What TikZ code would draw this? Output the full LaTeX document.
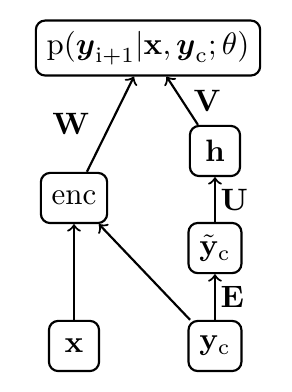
\documentclass[tikz,border=0pt]{standalone}
\usepackage{amsmath,amssymb}
\usetikzlibrary{arrows}
\tikzset{
  box/.style={draw,line width=0.7pt,rounded corners=3pt,minimum width=0.57cm,minimum height=0.57cm,inner sep=3.5pt},
  link/.style={->,line width=0.7pt}
}
\begin{document}
\begin{tikzpicture}
                \useasboundingbox (0,0) rectangle (3.318,4.455);

                \node[box] (Out) at (1.682,3.909) {$\mathrm{p}(\boldsymbol{y}_{\mathrm{i+1}}|\mathbf{x},\boldsymbol{y}_{\mathrm{c}};\theta)$};
                \node[box] (Hid) at (2.443,2.739) {$\mathbf{h}$};
                \node[box] (Enc) at (0.841,2.205) {enc};
                \node[box] (Emb) at (2.443,1.636) {$\tilde{\mathbf{y}}_{\mathrm{c}}$};
                \node[box] (Src) at (0.841,0.523) {$\mathbf{x}$};
                \node[box] (Ctx) at (2.443,0.523) {$\mathbf{y}_{\mathrm{c}}$};

                \draw[link] (Enc)--(Out) node[midway,left=3pt] {$\mathbf{W}$};
                \draw[link] (Hid)--(Out) node[midway,right] {$\mathbf{V}$};
                \draw[link] (Emb)--(Hid) node[midway,right,inner sep=1.5pt] {$\mathbf{U}$};
                \draw[link] (Ctx)--(Emb) node[midway,right,inner sep=1.5pt] {$\mathbf{E}$};
                \draw[link] (Src)--(Enc);
                \draw[link] (Ctx)--(Enc);
            \end{tikzpicture}
\end{document}
